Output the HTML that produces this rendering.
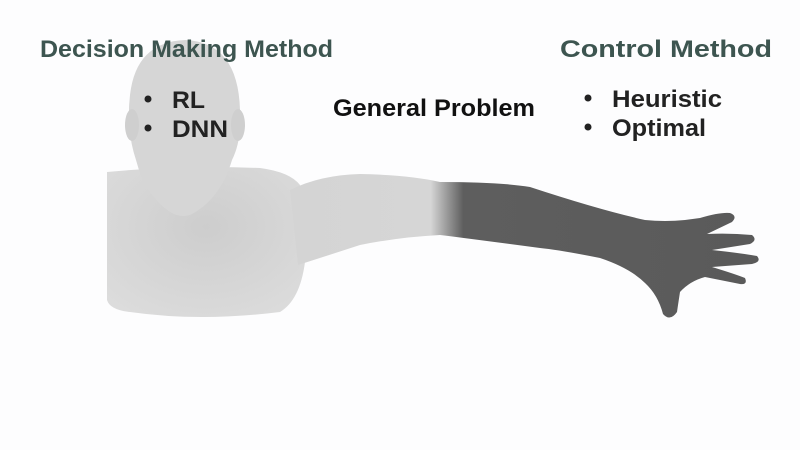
<!DOCTYPE html>
<html><head><style>
html,body{margin:0;padding:0;background:#fdfdfe;}
#c{position:relative;width:800px;height:450px;overflow:hidden;}
</style></head><body><div id="c">
<svg width="800" height="450" style="position:absolute;left:0;top:0" font-family="Liberation Sans, Arial, sans-serif" font-weight="bold">
<defs>
<linearGradient id="arm" x1="0" x2="1" y1="0" y2="0">
<stop offset="0" stop-color="#d4d4d4"/><stop offset="0.3" stop-color="#d6d6d6"/>
<stop offset="0.37" stop-color="#5e5e5e"/><stop offset="1" stop-color="#5a5a5a"/>
</linearGradient>
<radialGradient id="body" cx="0.5" cy="0.4" r="0.7">
<stop offset="0" stop-color="#cdcdcd"/><stop offset="1" stop-color="#dcdcdc"/>
</radialGradient>
</defs>
<path d="M107,172 Q180,165 260,168 Q290,172 300,185 L305,262 Q300,300 280,312 Q200,322 130,312 Q110,310 107,300 Z" fill="url(#body)"/>
<path d="M290,190 Q320,175 360,174 Q410,175 440,182 Q500,182 530,187 Q600,210 645,220 Q665,222 685,220 L700,218 Q720,212 730,213 Q738,216 732,222 L707,234 Q730,233 752,235 Q758,240 750,244 L712,250 Q740,253 757,256 Q762,262 752,264 L712,267 Q735,274 745,278 Q748,285 740,284 L705,277 Q690,281 680,292 Q678,305 677,312 Q670,322 663,314 Q658,295 645,283 Q630,268 600,258 Q560,250 540,248 Q480,240 440,235 Q400,237 360,245 Q320,258 298,265 Z" fill="url(#arm)"/>
<path d="M185,40 Q238,42 240,110 Q242,140 232,160 Q220,200 190,215 Q180,218 170,212 Q145,195 136,160 Q126,130 130,95 Q136,42 185,40 Z" fill="#d6d6d6"/>
<ellipse cx="132" cy="125" rx="7" ry="16" fill="#cfcfcf"/>
<ellipse cx="238" cy="125" rx="7" ry="16" fill="#cfcfcf"/>
<g font-size="24">
<text x="40" y="57" fill="#3d5550" textLength="293" lengthAdjust="spacingAndGlyphs">Decision Making Method</text>
<text x="560" y="57" fill="#3d5550" textLength="212" lengthAdjust="spacingAndGlyphs">Control Method</text>
<text x="333" y="116" fill="#111" textLength="202" lengthAdjust="spacingAndGlyphs">General Problem</text>
<text x="172" y="108" fill="#222" textLength="33" lengthAdjust="spacingAndGlyphs">RL</text>
<text x="172" y="137" fill="#222" textLength="56" lengthAdjust="spacingAndGlyphs">DNN</text>
<text x="612" y="107" fill="#222" textLength="110" lengthAdjust="spacingAndGlyphs">Heuristic</text>
<text x="612" y="136" fill="#222" textLength="94" lengthAdjust="spacingAndGlyphs">Optimal</text>
</g>
<circle cx="148" cy="99" r="3.5" fill="#222"/>
<circle cx="148" cy="128" r="3.5" fill="#222"/>
<circle cx="588" cy="98" r="3.5" fill="#222"/>
<circle cx="588" cy="127" r="3.5" fill="#222"/>
</svg>
</div></body></html>
